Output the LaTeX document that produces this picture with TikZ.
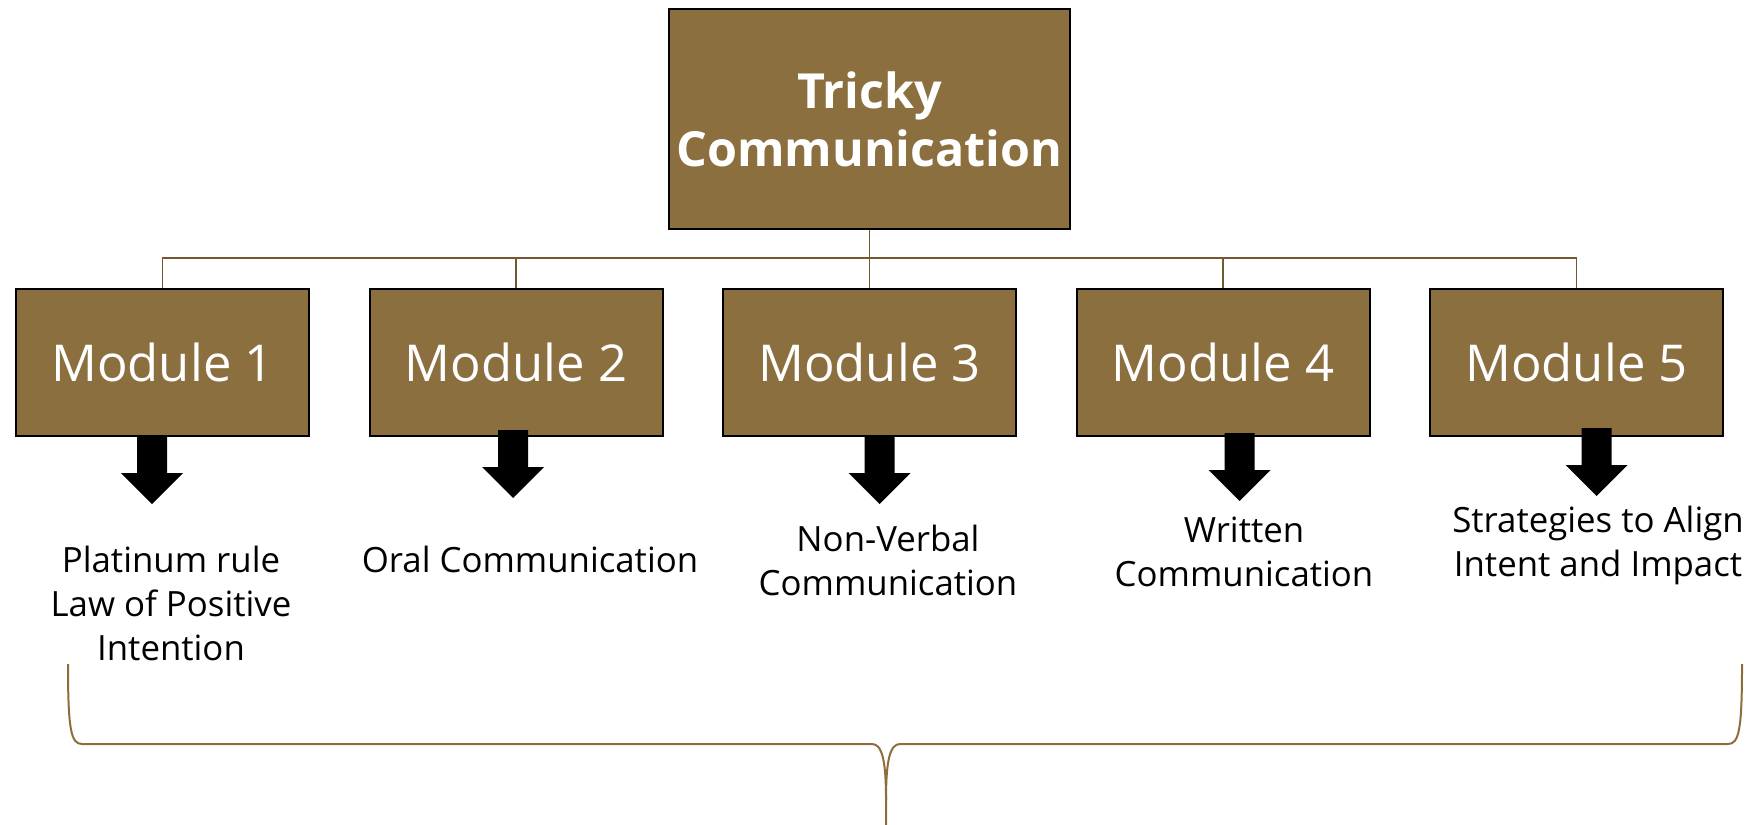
\documentclass[tikz,border=0pt]{standalone}
\usepackage{fontspec}
\setmainfont{Open Sans}
\definecolor{boxfill}{HTML}{8C6F3F}
\definecolor{linkline}{HTML}{74592F}
\definecolor{bracecol}{HTML}{8C6E3A}
\tikzset{
  topbox/.style={draw=black, line width=1pt, fill=boxfill, text=white,
    minimum width=200.5pt, minimum height=110pt, inner sep=0pt, align=center,
    font=\fontsize{24.2}{29}\selectfont\bfseries},
  modbox/.style={draw=black, line width=1pt, fill=boxfill, text=white,
    minimum width=146.5pt, minimum height=73.5pt, inner sep=0pt,
    font=\fontsize{25.4}{30}\selectfont},
  label/.style={anchor=base, inner sep=0pt, align=center,
    font=\fontsize{17.4}{22}\selectfont},
  link/.style={draw=linkline, line width=0.7pt},
  brace/.style={draw=bracecol, line width=1pt},
  blockarrow/.pic={
    \fill[black] (-15,0) -- (15,0) -- (15,37) -- (31,37) -- (0,68)
      -- (-31,37) -- (-15,37) -- cycle;
  }
}
\begin{document}
\begin{tikzpicture}[x=0.5pt,y=-0.5pt]
\useasboundingbox (0,0) rectangle (1760,824);

% root box
\node[topbox] (top) at (869.5,119) {Tricky\\Communication};

% module boxes
\node[modbox] (m1) at (162.5,362.5) {Module 1};
\node[modbox] (m2) at (516,362.5) {Module 2};
\node[modbox] (m3) at (869.5,362.5) {Module 3};
\node[modbox] (m4) at (1223,362.5) {Module 4};
\node[modbox] (m5) at (1576.5,362.5) {Module 5};

% tree connectors
\coordinate (bus) at (869.5,258);
\draw[link] (top.south) -- (bus);
\foreach \m in {m1,m2,m3,m4,m5}
  \draw[link] (bus) -| (\m.north);

% block arrows below the modules
\pic (a1) at (152,436) {blockarrow};
\pic (a2) at (513,430) {blockarrow};
\pic (a3) at (879.5,436) {blockarrow};
\pic (a4) at (1239.5,433) {blockarrow};
\pic (a5) at (1596.5,428) {blockarrow};

% topic labels (base = baseline of the last line)
\node[label] (t1) at (171,660) {Platinum rule\\Law of Positive\\Intention};
\node[label] (t2) at (530,572) {Oral Communication};
\node[label] (t3) at (888,595) {Non-Verbal\\Communication};
\node[label] (t4) at (1244,586) {Written\\Communication};
\node[label] (t5) at (1598,576) {Strategies to Align\\Intent and Impact};

% brace gathering all modules
\coordinate (bl) at (68,664);
\coordinate (br) at (1742,664);
\coordinate (btip) at (886,830);
\begin{scope}
\clip (0,0) rectangle (1760,824);
\draw[brace] (bl) .. controls (68,730) and (71,744) .. (82,744)
  -- (872,744) .. controls (882,744) and (886,760) .. (886,800) -- (btip);
\draw[brace] (br) .. controls (1742,730) and (1739,744) .. (1728,744)
  -- (900,744) .. controls (890,744) and (886,760) .. (886,800);
\end{scope}
\end{tikzpicture}
\end{document}
